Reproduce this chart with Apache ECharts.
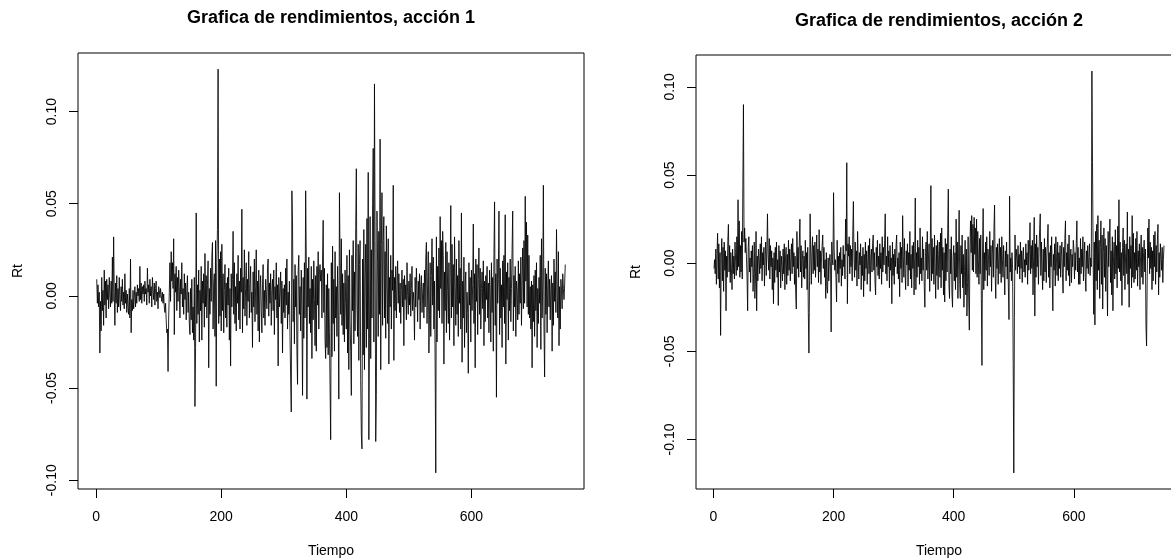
<!DOCTYPE html>
<html><head><meta charset="utf-8">
<script src="https://cdn.jsdelivr.net/npm/echarts@6/dist/echarts.min.js"></script>
<style>html,body{margin:0;padding:0;overflow:hidden;background:#fff}#c{width:1200px;height:560px}</style>
</head><body><div id="c"></div>
<script>
const titles = ['Grafica de rendimientos, acción 1', 'Grafica de rendimientos, acción 2'];
const xName = 'Tiempo';
const yName = 'Rt';
const xTicks = [0, 200, 400, 600];
const yTicks1 = [-0.10, -0.05, 0.00, 0.05, 0.10];
const yTicks2 = [-0.10, -0.05, 0.00, 0.05, 0.10];

// Rendimientos, acción 1 (t = 1..750)
const rend1 = [
.009,-.004,.006,-.006,.002,-.031,-.003,-.019,.010,-.008,.003,-.016,.014,-.005,.008,-.012,.009,-.002,.006,-.007,.010,.001,-.006,.008,-.004,
.021,-.003,.032,.002,-.016,.007,-.004,.011,-.009,.004,-.006,.010,-.002,-.008,.005,-.003,.009,-.005,.002,-.007,.012,-.004,.003,-.009,.001,
-.006,-.010,.004,-.012,.020,-.020,-.002,-.008,.003,-.007,-.001,.005,-.006,.002,-.004,.006,.000,.004,-.003,.016,-.002,.007,-.004,.005,.001,
.006,-.003,.008,.001,.004,-.005,.015,.002,.006,-.004,.009,.000,.005,-.006,.010,.003,-.002,.007,-.005,.004,.008,-.003,.002,-.007,.005,
.003,-.001,.004,.000,-.003,.002,-.004,.001,-.006,-.009,-.004,-.013,-.020,-.018,-.041,-.012,.002,.018,-.003,.024,.008,.018,.004,.031,-.021,
.012,.002,.016,-.008,.010,-.003,.014,.005,-.012,.009,.001,.018,-.006,.004,-.010,.012,-.002,.007,-.013,.003,.011,-.009,.002,-.015,-.021,
.004,-.013,.009,-.020,-.006,-.024,.010,-.060,-.028,.045,-.015,.006,-.010,.014,-.025,.003,-.008,.016,-.024,.008,-.004,.012,-.017,.023,-.006,
.011,-.012,.006,.019,-.039,.004,-.010,.015,-.003,.021,.029,-.018,.007,.012,-.022,.030,-.049,.018,.036,.123,-.015,.020,-.011,.024,-.019,
.028,-.008,.012,-.020,.003,.017,-.012,.007,-.017,.010,-.005,.015,-.024,.004,-.038,.012,-.006,.009,.035,-.010,.018,-.015,.005,-.019,.012,
-.004,.022,-.013,.008,-.018,.015,.002,.047,-.020,.010,-.007,.025,-.011,.004,.018,-.016,.009,-.003,.024,-.012,.006,.016,-.009,.002,-.028,
.013,-.006,.020,-.014,.005,.025,-.010,.008,-.019,.014,-.025,.004,.011,-.008,-.020,.006,.017,-.012,.003,-.016,.009,.002,-.007,.015,.020,
-.011,.007,-.004,.012,-.016,.003,.009,-.008,.014,-.021,.005,-.002,.018,-.012,.006,-.038,.010,-.006,.002,.013,-.015,.008,-.031,.004,-.009,
.006,-.012,.015,-.005,.020,-.018,.002,-.010,.008,-.022,-.044,-.063,.057,.039,-.014,.009,-.026,.017,-.006,.011,-.030,-.048,.013,.022,-.010,
.005,-.019,.014,-.008,-.054,.010,-.023,.018,-.012,.057,.020,-.056,.015,-.006,.021,-.015,.004,-.020,.016,-.034,.009,-.013,.019,-.002,-.027,
.011,-.030,.016,-.005,.024,-.018,.013,.017,.008,.014,-.012,.020,.041,-.009,.015,-.024,-.034,.006,-.028,.012,-.032,.004,-.020,-.049,-.078,
.018,-.033,.027,-.015,.009,-.030,.024,-.012,.005,-.022,.016,-.008,-.056,.056,.020,-.010,.031,-.016,.012,-.021,.007,-.025,.014,-.004,-.018,
.022,-.031,.011,-.040,.025,-.014,-.030,-.054,.022,-.008,.030,-.026,.013,-.019,.037,.069,-.005,-.022,.028,-.035,.017,.030,-.046,-.075,-.083,
.020,-.032,.036,-.040,.010,.028,-.028,.042,-.018,.067,-.078,-.020,.043,-.034,.025,-.012,.050,.080,-.025,.115,.030,-.079,-.054,.046,.018,
-.022,.035,-.010,.085,-.040,.028,.056,-.016,.030,.043,-.012,.024,-.023,.038,.005,-.015,.031,-.037,.010,-.006,.022,-.018,.014,.003,.060,
-.035,.010,-.008,.016,-.012,.005,.019,-.004,.012,-.009,.007,-.015,.003,.014,-.006,.009,-.027,.011,-.002,.006,-.013,.018,.000,-.010,.008,
-.005,.012,-.011,.004,.016,-.008,.002,-.003,-.024,.010,-.006,.015,.003,-.014,.008,-.002,.012,-.018,.005,.011,-.009,.001,.007,-.012,.014,
-.006,.020,.029,-.015,.006,.024,-.031,-.010,.018,-.022,.011,.031,-.005,.021,-.018,.008,-.038,-.096,.032,-.025,.016,-.008,.026,-.012,.043,
.004,.030,-.015,.035,.022,-.037,.013,-.008,.029,-.020,.024,.003,-.015,.018,-.024,.010,.049,-.012,.028,-.006,.017,-.027,.032,.005,-.016,
.020,-.010,.011,-.022,.030,-.004,.015,-.018,.045,-.036,.008,-.012,.021,-.028,.006,.013,-.020,.002,-.009,-.042,.018,-.005,.010,-.025,.014,
-.008,.006,.039,-.015,.012,-.039,.020,-.003,.017,-.021,.009,.026,-.010,.015,-.018,.004,.013,-.007,.019,-.027,.008,-.014,.011,-.002,.016,
-.012,.007,-.020,.014,.002,-.025,.018,-.009,.010,-.030,.023,.051,-.016,.012,-.055,.020,-.004,.009,.046,-.021,.015,-.012,.006,-.028,.019,
-.006,.022,-.015,.044,-.037,.013,-.002,.018,-.024,.010,-.008,.020,-.014,.004,.025,.046,-.019,.011,-.006,.016,-.022,.008,.003,-.013,.019,
-.010,.012,-.004,.021,-.016,.009,.026,-.007,.030,-.004,.054,.008,.040,-.006,.033,-.010,.022,-.012,.005,-.018,.008,-.039,.006,-.014,.011,
-.022,.014,-.008,.018,-.028,.004,-.015,.010,-.004,.022,-.029,.031,-.012,.007,.060,-.018,-.044,.015,-.010,.012,-.020,.006,.019,-.006,.009,
-.013,.004,.011,-.030,.007,-.016,.020,-.003,.013,-.009,.036,.002,-.012,.024,-.027,.005,-.018,.009,.003,-.007,.012,.004,-.002,.006,.017
];

// Rendimientos, acción 2 (t = 1..750)
const rend2 = [
-.003,.002,-.006,.008,-.012,.005,.017,-.009,.011,-.014,.006,-.041,.003,.014,-.010,.009,-.016,.012,-.004,.007,-.027,.004,-.008,.013,.022,
-.005,.010,-.011,.006,-.003,-.015,.008,-.006,.004,-.009,.012,.001,-.007,.015,-.004,.036,-.002,.024,-.008,.010,-.005,.018,-.009,.044,.090,
.012,.020,.006,.014,.004,-.008,-.027,.009,.015,-.005,.003,-.011,.007,-.002,.010,-.016,-.006,.012,-.020,-.009,.018,-.027,.004,-.010,.008,
.002,-.006,.011,-.003,.015,-.010,.006,-.001,.009,-.013,.004,.012,-.007,.008,.028,.005,-.004,.014,-.009,.010,-.002,.007,-.015,.003,-.023,
.006,-.011,.009,-.004,.012,-.008,.002,-.024,.010,-.005,.007,-.014,.004,-.002,-.010,.008,-.006,.011,-.015,.003,.009,-.012,.005,-.007,.013,
-.004,.008,-.010,.003,.011,-.006,.014,-.002,.006,-.012,.004,-.017,-.026,.018,-.003,.009,-.008,.012,.025,-.005,.010,-.014,.002,.007,-.008,
.004,-.009,.013,-.003,.006,-.015,.009,-.028,-.051,-.010,.028,.003,-.012,.007,.015,-.006,.010,-.004,.012,-.008,.005,.016,-.002,.008,-.011,
.019,-.005,.007,-.012,.004,.010,.016,-.003,.009,-.008,.002,-.020,.006,-.014,-.017,.003,-.010,.001,.005,-.002,-.039,.012,.002,-.001,.040,
.008,-.004,.002,-.008,-.022,.013,-.006,.004,-.011,.006,-.003,.009,-.013,.002,-.007,.010,-.002,.005,-.009,.025,.007,.057,-.023,.011,.004,
.015,-.006,.010,-.002,.008,-.010,.018,.035,.003,-.008,.012,-.004,.007,-.013,.018,.002,-.009,.006,-.001,.011,-.015,.004,-.007,.009,-.019,
.005,-.010,.012,-.003,.007,-.012,.002,.010,-.006,.014,-.016,.003,.008,-.005,.011,.016,-.004,.006,-.011,-.018,.009,-.002,.013,-.007,.004,
-.009,.011,-.003,.006,-.012,.015,-.005,.009,-.001,.013,.028,-.006,.004,-.010,.015,-.002,.007,-.014,.010,-.004,.003,-.023,.012,-.007,.005,
-.012,.008,-.002,.010,.016,-.006,.003,-.009,.006,-.019,.012,-.003,.009,-.011,.027,.004,-.008,.014,-.005,-.015,.007,-.001,.011,-.013,.006,
-.004,.018,-.009,.005,-.014,.010,-.003,.012,-.018,.004,.037,-.015,.006,-.008,.013,-.002,.009,-.012,.020,-.006,.003,-.010,.015,-.004,.008,
-.013,-.025,.006,.012,-.004,.018,-.009,.003,.011,-.016,.008,.044,-.010,.014,-.006,.009,-.012,.016,-.003,-.020,.010,-.007,.013,-.015,.005,
.012,-.008,.017,-.014,.020,-.004,.009,-.018,.006,-.022,.014,-.010,.011,-.005,.019,.042,-.012,-.020,.008,-.006,.015,-.017,-.025,.004,.010,
-.010,.006,-.015,.025,-.008,.012,-.020,.004,.030,-.012,-.020,.010,-.006,.016,-.014,.005,-.025,-.004,.013,-.018,.008,-.030,-.011,.015,-.022,
-.038,.010,.024,.006,.027,-.004,.022,-.005,.026,.005,.020,-.006,.025,-.008,.018,.002,-.012,.014,-.006,.016,-.020,-.058,.008,.031,-.015,
.006,-.010,.012,-.004,.015,-.013,.008,.002,-.007,.018,-.002,.010,-.016,.005,.013,-.008,.020,.033,-.006,-.020,.009,-.003,.011,-.012,.004,
.014,-.006,.009,-.011,.015,.002,-.008,.010,-.004,-.018,.007,-.002,.012,-.009,.005,-.014,-.032,.038,-.005,.003,-.010,.006,-.003,-.057,-.119,
-.031,.016,-.004,.008,.003,-.006,.010,-.002,.005,-.009,.012,-.003,.007,-.011,.004,.009,-.005,.002,-.008,.011,-.001,.006,-.012,.013,-.004,
.008,.023,-.006,.010,-.003,.013,-.018,.004,.026,-.030,.011,-.008,.016,-.002,.009,-.012,.006,.019,.028,-.007,.012,-.004,-.015,.008,-.010,
.014,-.005,.009,-.011,.004,.012,.022,-.008,.006,-.014,.010,-.002,.015,-.009,-.027,.005,-.004,.011,-.013,.015,.003,-.007,.012,-.010,.006,
-.003,.010,-.008,.004,.012,-.006,-.017,.009,-.002,.014,.024,-.010,.006,-.004,.011,-.007,.016,-.013,.003,.008,-.011,.005,-.002,.013,.008,
-.009,.006,-.004,.011,.024,-.005,.009,-.012,.003,-.012,.014,-.006,.008,-.002,.015,-.010,.005,.012,-.008,-.016,.007,-.003,.010,-.006,.004,
.011,-.007,.003,-.002,.109,.057,.006,-.029,.012,-.035,.018,-.010,.022,-.015,.027,-.004,.013,-.020,.009,.024,-.012,.016,-.026,.006,.020,
-.008,.014,-.016,.010,-.004,-.030,.018,-.002,.011,.025,-.011,.007,-.018,.015,-.027,.004,.012,-.009,.019,-.006,.010,-.014,.021,-.003,.036,
-.005,.012,-.010,.006,-.024,.009,.020,-.007,.013,-.015,.004,.011,-.006,.029,-.012,.008,-.025,.015,-.003,.010,-.014,.027,-.008,.017,-.011,
.006,-.009,.014,-.004,.018,-.013,.007,-.002,.011,-.015,.004,.016,-.008,.009,-.012,.006,.013,-.005,.008,-.036,-.047,-.010,.020,.003,.025,
-.006,.012,-.003,.009,-.015,.007,-.010,.016,-.002,.018,-.012,.010,-.005,.013,.022,-.018,.006,-.008,.011,.012,-.004,.009,-.011,.002,.010
];

// R-style axis extents (4% padding around the data range)
function rRange(lo, hi) { const d = (hi - lo) * 0.04; return [lo - d, hi + d]; }
const n1 = rend1.length, n2 = rend2.length;
const xr1 = rRange(1, n1), xr2 = rRange(1, n2);
const yr1 = rRange(Math.min(...rend1), Math.max(...rend1));
const yr2 = rRange(Math.min(...rend2), Math.max(...rend2));
const data1 = rend1.map((v, i) => [i + 1, v]);
const data2 = rend2.map((v, i) => [i + 1, v]);

const FONT = "'Liberation Sans', Arial, sans-serif";
const txt = { fontSize: 14, color: '#000', fontFamily: FONT };

function xAxis(gi, xr) {
  return {
    type: 'value', gridIndex: gi, min: xr[0], max: xr[1], position: 'bottom',
    axisLine: { show: false, onZero: false }, splitLine: { show: false },
    axisTick: { show: true, inside: false, length: 9, customValues: xTicks, lineStyle: { color: '#000', width: 1 } },
    axisLabel: Object.assign({ customValues: xTicks, margin: 21 }, txt),
    name: xName, nameLocation: 'middle', nameGap: 55, nameTextStyle: txt
  };
}
function yAxis(gi, yr, ticks) {
  return {
    type: 'value', gridIndex: gi, min: yr[0], max: yr[1], position: 'left',
    axisLine: { show: false, onZero: false }, splitLine: { show: false },
    axisTick: { show: true, inside: false, length: 9, customValues: ticks, lineStyle: { color: '#000', width: 1 } },
    axisLabel: Object.assign({ customValues: ticks, margin: 19, rotate: 90, formatter: v => v.toFixed(2) }, txt),
    name: yName, nameLocation: 'middle', nameGap: 53, nameRotate: 90, nameTextStyle: txt
  };
}

const chart = echarts.init(document.getElementById('c'), null, { renderer: 'canvas' });
chart.setOption({
  animation: false,
  backgroundColor: '#fff',
  graphic: [
    { type: 'text', x: 331, y: 18, style: { text: titles[0], align: 'center', verticalAlign: 'middle', font: "bold 18px " + FONT, fill: '#000' } },
    { type: 'text', x: 939, y: 21, style: { text: titles[1], align: 'center', verticalAlign: 'middle', font: "bold 18px " + FONT, fill: '#000' } }
  ],
  grid: [
    { left: 78, top: 53, width: 506, height: 436, show: true, borderColor: '#000', borderWidth: 1, backgroundColor: 'transparent', outerBoundsMode: 'none', containLabel: false },
    { left: 696, top: 55, width: 486, height: 434, show: true, borderColor: '#000', borderWidth: 1, backgroundColor: 'transparent', outerBoundsMode: 'none', containLabel: false }
  ],
  xAxis: [xAxis(0, xr1), xAxis(1, xr2)],
  yAxis: [yAxis(0, yr1, yTicks1), yAxis(1, yr2, yTicks2)],
  series: [
    { type: 'line', xAxisIndex: 0, yAxisIndex: 0, data: data1, showSymbol: false, symbol: 'none', silent: true,
      lineStyle: { color: '#000', width: 0.85 } },
    { type: 'line', xAxisIndex: 1, yAxisIndex: 1, data: data2, showSymbol: false, symbol: 'none', silent: true,
      lineStyle: { color: '#000', width: 0.85 } }
  ]
});
</script>
</body></html>
